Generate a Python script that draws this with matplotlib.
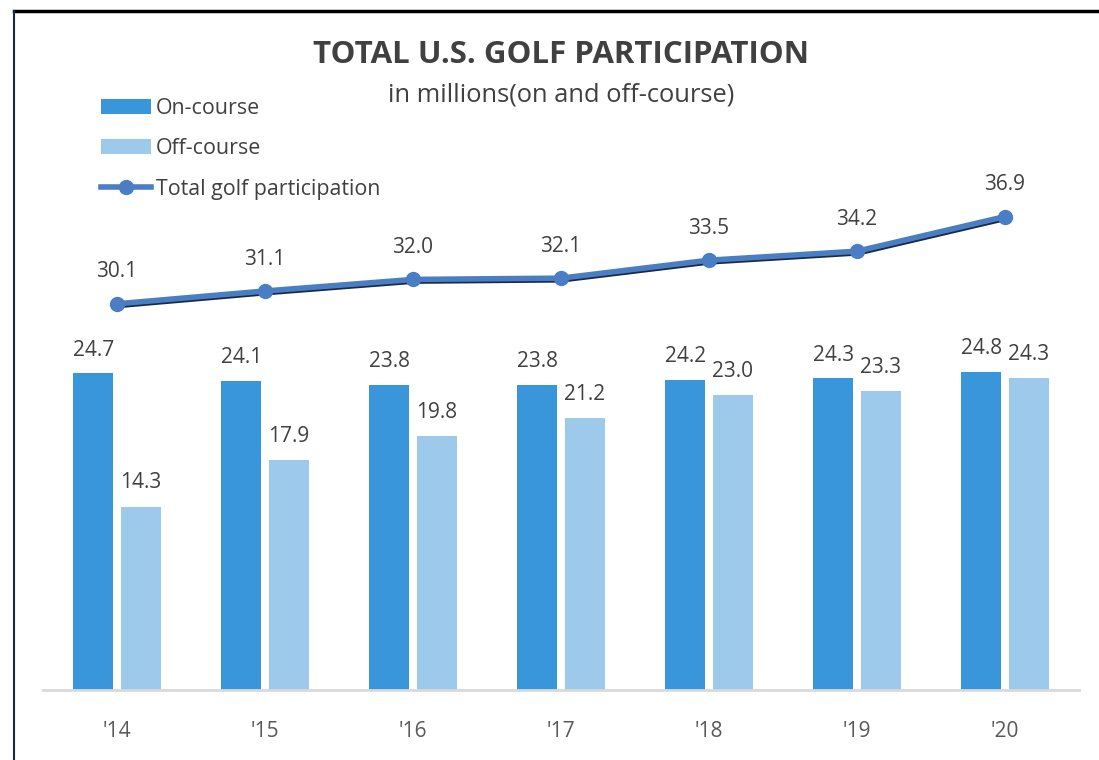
import matplotlib
matplotlib.use("Agg")
import matplotlib.pyplot as plt
import matplotlib.patheffects as pe
from matplotlib.lines import Line2D
import numpy as np

# values
years = ["'14", "'15", "'16", "'17", "'18", "'19", "'20"]
on_course = [24.7, 24.1, 23.8, 23.8, 24.2, 24.3, 24.8]
off_course = [14.3, 17.9, 19.8, 21.2, 23.0, 23.3, 24.3]
total = [30.1, 31.1, 32.0, 32.1, 33.5, 34.2, 36.9]

ON_COLOR = '#3A96DA'
OFF_COLOR = '#9DCAEA'
LINE_COLOR = '#4A7EC4'
TEXT_COLOR = '#404040'

plt.rcParams['font.family'] = ['Open Sans', 'DejaVu Sans']

W, H = 1099, 760
fig = plt.figure(figsize=(W / 100, H / 100), dpi=100)

# axes placed in pixel terms: x 43..1079, y 40..690 (from top)
ax = fig.add_axes([43 / W, (H - 690) / H, 1036 / W, 650 / H])

x = np.arange(len(years))
bar_w = 0.27
off = 0.16

b1 = ax.bar(x - off, on_course, bar_w, color=ON_COLOR, label='On-course', zorder=2)
b2 = ax.bar(x + off, off_course, bar_w, color=OFF_COLOR, label='Off-course', zorder=2)

#line with a thin dark shadow, markers drawn on top without it
shadow = [pe.SimpleLineShadow(offset=(0.6, -1.2), shadow_color='#1a2a44', alpha=1), pe.Normal()]
ax.plot(x, total, color=LINE_COLOR, lw=4, zorder=3, path_effects=shadow)
ax.plot(x, total, ls='none', marker='o', markersize=10, color=LINE_COLOR,
        markeredgecolor=LINE_COLOR, zorder=4)
ln = Line2D([], [], color=LINE_COLOR, lw=4, marker='o', markersize=10,
            markeredgecolor=LINE_COLOR)

#data labels
for xi, v in zip(x, on_course):
    ax.annotate('%.1f' % v, (xi - off, v), xytext=(0, 16.5), textcoords='offset points',
                ha='center', va='center', fontsize=15, color=TEXT_COLOR)
for xi, v in zip(x, off_course):
    ax.annotate('%.1f' % v, (xi + off, v), xytext=(0, 17), textcoords='offset points',
                ha='center', va='center', fontsize=15, color=TEXT_COLOR)
for xi, v in zip(x, total):
    ax.annotate('%.1f' % v, (xi, v), xytext=(0, 23), textcoords='offset points',
                ha='center', va='center', fontsize=15, color=TEXT_COLOR)

ax.set_xlim(-0.5, len(years) - 0.5)
ax.set_ylim(0, 650 / 12.83)
ax.set_xticks(x)
ax.set_xticklabels(years, fontsize=15, color='#595959')
ax.tick_params(axis='x', length=0, pad=22.5)
ax.set_yticks([])
for s in ['top', 'right', 'left']:
    ax.spines[s].set_visible(False)
ax.spines['bottom'].set_color('#D9D9D9')
ax.spines['bottom'].set_linewidth(2)

#title and subtitle
fig.text(561 / W, 1 - 55 / H, 'TOTAL U.S. GOLF PARTICIPATION', ha='center', va='center',
         fontsize=22.5, fontweight='bold', color=TEXT_COLOR)
fig.text(561 / W, 1 - 95 / H, 'in millions(on and off-course)', ha='center', va='center',
         fontsize=18.4, color=TEXT_COLOR)

leg = fig.legend(handles=[b1, b2, ln],
                 labels=['On-course', 'Off-course', 'Total golf participation'],
                 loc='upper left', bbox_to_anchor=(92 / W, 1 - 89 / H), frameon=False,
                 fontsize=15.4, handlelength=2.35, handletextpad=0.25,
                 labelspacing=0.92, borderaxespad=0)
for t in leg.get_texts():
    t.set_color(TEXT_COLOR)

#frame around the chart
fig.add_artist(Line2D([14 / W, 1], [1 - 11 / H, 1 - 11 / H], color='black', lw=2.5))
fig.add_artist(Line2D([14 / W, 14 / W], [0, 1 - 11 / H], color='#1a2a44', lw=1.5))

fig.savefig('out.png', dpi=100)
